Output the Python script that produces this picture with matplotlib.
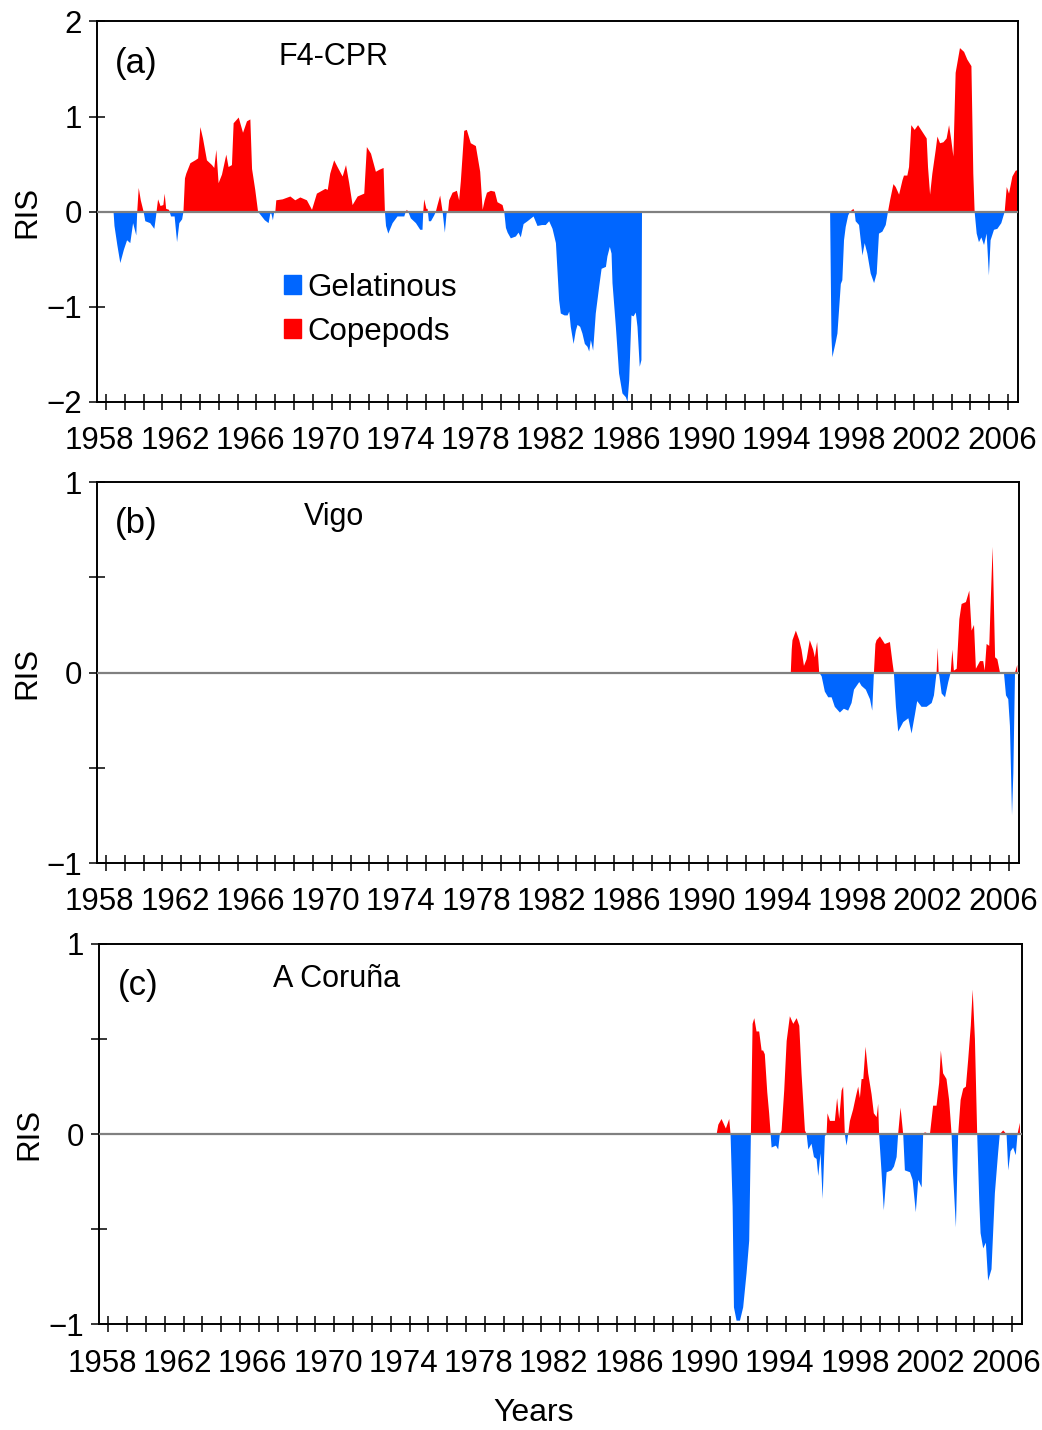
import matplotlib
matplotlib.use("Agg")
import matplotlib.pyplot as plt
from matplotlib.patches import Patch
from matplotlib.ticker import FixedLocator, FuncFormatter
from matplotlib.transforms import ScaledTranslation
import numpy as np

plt.rcParams["font.family"] = ["Liberation Sans", "DejaVu Sans"]

# (a) F4-CPR
a_years = [1958.40, 1958.45, 1958.60, 1958.76, 1958.95, 1959.12, 1959.29, 1959.44, 1959.52, 1959.61,
           1959.66, 1959.74, 1959.85, 1960.00, 1960.09, 1960.35, 1960.57, 1960.66, 1960.70, 1960.77,
           1960.90, 1961.05, 1961.12, 1961.20, 1961.35, 1961.46, 1961.65, 1961.78, 1961.90, 1962.05,
           1962.12, 1962.20, 1962.27, 1962.49, 1962.75, 1962.90, 1963.02, 1963.16, 1963.37, 1963.64,
           1963.76, 1963.87, 1963.99, 1964.17, 1964.40, 1964.52, 1964.70, 1964.79, 1965.06, 1965.29,
           1965.50, 1965.68, 1965.77, 1965.94, 1966.09, 1966.21, 1966.45, 1966.65, 1966.74, 1966.80,
           1966.88, 1966.95, 1967.00, 1967.06, 1967.40, 1967.81, 1968.07, 1968.34, 1968.69, 1968.96,
           1969.22, 1969.67, 1969.80, 1969.93, 1970.14, 1970.32, 1970.59, 1970.77, 1970.94, 1971.12,
           1971.39, 1971.74, 1971.88, 1972.10, 1972.36, 1972.54, 1972.77, 1972.84, 1972.90, 1973.02,
           1973.25, 1973.51, 1973.87, 1973.95, 1974.01, 1974.08, 1974.22, 1974.49, 1974.72, 1974.84,
           1974.88, 1974.93, 1975.05, 1975.11, 1975.18, 1975.29, 1975.46, 1975.55, 1975.64, 1975.78,
           1975.91, 1976.03, 1976.12, 1976.20, 1976.26, 1976.44, 1976.67, 1976.79, 1976.88, 1977.06,
           1977.20, 1977.41, 1977.68, 1977.91, 1978.04, 1978.15, 1978.27, 1978.48, 1978.69, 1978.83,
           1979.10, 1979.19, 1979.28, 1979.37, 1979.54, 1979.81, 1979.95, 1980.07, 1980.22, 1980.43,
           1980.75, 1980.96, 1981.20, 1981.40, 1981.58, 1981.76, 1981.94, 1982.11, 1982.20, 1982.40,
           1982.56, 1982.65, 1982.73, 1982.88, 1983.00, 1983.09, 1983.23, 1983.35, 1983.48, 1983.62,
           1983.71, 1983.80, 1983.92, 1984.06, 1984.24, 1984.37, 1984.60, 1984.68, 1984.81, 1984.90,
           1984.95, 1985.13, 1985.30, 1985.48, 1985.66, 1985.75, 1985.84, 1985.96, 1986.07, 1986.19,
           1986.28, 1986.40, 1986.49, 1986.52,
           1996.53, 1996.60, 1996.65, 1996.83, 1996.92, 1997.10, 1997.18, 1997.27, 1997.36, 1997.49,
           1997.59, 1997.77, 1997.83, 1997.89, 1998.07, 1998.16, 1998.25, 1998.37, 1998.51, 1998.69,
           1998.87, 1999.01, 1999.13, 1999.31, 1999.49, 1999.61, 1999.72, 1999.90, 2000.02, 2000.20,
           2000.38, 2000.46, 2000.64, 2000.73, 2000.85, 2001.03, 2001.21, 2001.44, 2001.67, 2001.74,
           2001.85, 2001.97, 2002.15, 2002.24, 2002.38, 2002.56, 2002.73, 2002.86, 2002.98, 2003.09,
           2003.21, 2003.44, 2003.66, 2003.83, 2004.05, 2004.15, 2004.22, 2004.33, 2004.45, 2004.58,
           2004.72, 2004.86, 2004.98, 2005.07, 2005.25, 2005.43, 2005.64, 2005.82, 2005.93, 2006.05,
           2006.23, 2006.40, 2006.53]
a_ris = [0.0, -0.15, -0.35, -0.54, -0.40, -0.30, -0.33, -0.12, -0.18, -0.25,
         0.0, 0.25, 0.12, 0.0, -0.10, -0.12, -0.18, -0.05, 0.02, 0.13,
         0.06, 0.07, 0.19, 0.03, 0.02, -0.05, -0.05, -0.32, -0.12, -0.08,
         0.0, 0.35, 0.40, 0.51, 0.54, 0.56, 0.89, 0.77, 0.54, 0.49,
         0.46, 0.65, 0.30, 0.39, 0.60, 0.47, 0.49, 0.93, 0.99, 0.83,
         0.95, 0.97, 0.45, 0.23, 0.0, -0.03, -0.09, -0.12, -0.02, -0.02,
         -0.09, 0.0, -0.02, 0.12, 0.13, 0.16, 0.12, 0.15, 0.12, 0.02,
         0.19, 0.24, 0.23, 0.40, 0.54, 0.47, 0.37, 0.49, 0.30, 0.07,
         0.16, 0.19, 0.68, 0.61, 0.42, 0.44, 0.46, 0.0, -0.15, -0.23,
         -0.12, -0.05, -0.05, 0.0, 0.02, 0.0, -0.07, -0.12, -0.19, -0.19,
         0.0, 0.13, 0.03, 0.03, -0.10, -0.10, -0.04, 0.0, 0.07, 0.17,
         0.0, -0.22, -0.02, 0.0, 0.12, 0.20, 0.22, 0.12, 0.32, 0.85,
         0.86, 0.72, 0.69, 0.42, 0.02, 0.12, 0.20, 0.22, 0.21, 0.10,
         0.07, 0.0, -0.17, -0.22, -0.28, -0.26, -0.22, -0.27, -0.13, -0.10,
         -0.05, -0.15, -0.14, -0.14, -0.10, -0.18, -0.33, -0.93, -1.07, -1.09,
         -1.09, -1.05, -1.21, -1.39, -1.25, -1.19, -1.21, -1.28, -1.39, -1.42,
         -1.47, -1.35, -1.46, -1.07, -0.79, -0.60, -0.58, -0.47, -0.37, -0.44,
         -0.75, -1.21, -1.70, -1.91, -1.95, -2.00, -1.77, -1.09, -1.10, -1.06,
         -1.21, -1.63, -1.56, 0.0,
         0.0, -1.30, -1.53, -1.37, -1.28, -0.76, -0.72, -0.30, -0.16, -0.04,
         0.0, 0.03, 0.0, -0.10, -0.14, -0.30, -0.46, -0.33, -0.44, -0.65,
         -0.75, -0.65, -0.23, -0.21, -0.14, 0.0, 0.12, 0.29, 0.26, 0.18,
         0.33, 0.38, 0.38, 0.47, 0.91, 0.86, 0.91, 0.84, 0.77, 0.47,
         0.18, 0.40, 0.65, 0.79, 0.72, 0.73, 0.77, 0.91, 0.75, 0.58,
         1.46, 1.72, 1.68, 1.60, 1.53, 0.40, 0.0, -0.23, -0.32, -0.27,
         -0.35, -0.23, -0.67, -0.30, -0.19, -0.18, -0.12, 0.0, 0.26, 0.19,
         0.37, 0.43, 0.44]

# (b) Vigo
b_years = [1994.40, 1994.45, 1994.49, 1994.67, 1994.85, 1994.97, 1995.10, 1995.24, 1995.41, 1995.59,
           1995.68, 1995.80, 1995.91, 1996.04, 1996.21, 1996.39, 1996.57, 1996.74, 1997.01, 1997.22,
           1997.45, 1997.63, 1997.76, 1998.04, 1998.16, 1998.39, 1998.61, 1998.73, 1998.82, 1998.90,
           1998.96, 1999.14, 1999.40, 1999.67, 1999.81, 1999.88, 1999.99, 2000.11, 2000.38, 2000.65,
           2000.82, 2001.00, 2001.12, 2001.35, 2001.62, 2001.89, 2002.01, 2002.15, 2002.21, 2002.26,
           2002.30, 2002.42, 2002.60, 2002.77, 2002.90, 2002.99, 2003.07, 2003.22, 2003.36, 2003.48,
           2003.71, 2003.89, 2004.01, 2004.14, 2004.24, 2004.46, 2004.63, 2004.71, 2004.81, 2004.95,
           2005.02, 2005.13, 2005.26, 2005.38, 2005.52, 2005.73, 2005.84, 2005.96, 2006.05, 2006.16,
           2006.23, 2006.32, 2006.44]
b_ris = [0.0, 0.12, 0.17, 0.22, 0.17, 0.12, 0.035, 0.07, 0.17, 0.12,
         0.08, 0.16, 0.0, -0.02, -0.10, -0.13, -0.13, -0.18, -0.21, -0.19,
         -0.20, -0.16, -0.09, -0.05, -0.07, -0.09, -0.14, -0.20, 0.0, 0.15,
         0.17, 0.19, 0.15, 0.16, 0.05, 0.0, -0.18, -0.31, -0.26, -0.24,
         -0.32, -0.22, -0.15, -0.18, -0.18, -0.16, -0.12, 0.0, 0.13, 0.0,
         -0.02, -0.11, -0.13, -0.05, 0.0, 0.12, 0.01, 0.02, 0.28, 0.36,
         0.37, 0.43, 0.22, 0.25, 0.02, 0.06, 0.06, 0.01, 0.15, 0.14,
         0.35, 0.66, 0.08, 0.07, 0.0, 0.0, -0.12, -0.14, -0.28, -0.75,
         -0.53, 0.0, 0.04]

# (c) A Coruña
c_years = [1990.31, 1990.40, 1990.57, 1990.80, 1990.98, 1991.05, 1991.16, 1991.23, 1991.37, 1991.55,
           1991.72, 1991.90, 1992.04, 1992.13, 1992.22, 1992.31, 1992.43, 1992.57, 1992.70, 1992.78,
           1992.87, 1993.00, 1993.10, 1993.18, 1993.23, 1993.46, 1993.58, 1993.67, 1993.76, 1993.90,
           1994.03, 1994.20, 1994.38, 1994.56, 1994.70, 1994.82, 1995.00, 1995.09, 1995.18, 1995.35,
           1995.48, 1995.62, 1995.71, 1995.83, 1995.94, 1996.06, 1996.15, 1996.20, 1996.33, 1996.59,
           1996.71, 1996.82, 1996.95, 1997.03, 1997.12, 1997.21, 1997.30, 1997.39, 1997.56, 1997.71,
           1997.83, 1997.92, 1998.01, 1998.10, 1998.22, 1998.36, 1998.54, 1998.66, 1998.81, 1998.89,
           1998.94, 1999.07, 1999.19, 1999.34, 1999.60, 1999.73, 1999.87, 1999.95, 2000.08, 2000.22,
           2000.31, 2000.58, 2000.72, 2000.89, 2001.02, 2001.20, 2001.28, 2001.37, 2001.64, 2001.81,
           2001.99, 2002.13, 2002.22, 2002.34, 2002.52, 2002.66, 2002.79, 2002.87, 2003.02, 2003.14,
           2003.27, 2003.41, 2003.55, 2003.67, 2003.81, 2003.91, 2004.03, 2004.15, 2004.26, 2004.33,
           2004.47, 2004.61, 2004.73, 2004.91, 2005.09, 2005.26, 2005.35, 2005.53, 2005.71, 2005.80,
           2005.92, 2006.06, 2006.20, 2006.29, 2006.42]
c_ris = [0.0, 0.05, 0.08, 0.03, 0.08, 0.0, -0.38, -0.91, -0.98, -0.98,
         -0.91, -0.73, -0.56, 0.0, 0.58, 0.61, 0.54, 0.54, 0.44, 0.44,
         0.42, 0.22, 0.11, 0.0, -0.07, -0.06, -0.08, 0.0, 0.02, 0.23,
         0.49, 0.62, 0.58, 0.61, 0.57, 0.32, 0.02, 0.0, -0.08, -0.05,
         -0.12, -0.13, -0.22, -0.10, -0.34, -0.01, 0.0, 0.11, 0.07, 0.07,
         0.19, 0.08, 0.23, 0.25, 0.0, -0.06, 0.0, 0.07, 0.13, 0.20,
         0.25, 0.19, 0.29, 0.29, 0.46, 0.32, 0.21, 0.11, 0.09, 0.16,
         0.0, -0.20, -0.40, -0.20, -0.19, -0.17, -0.12, 0.0, 0.14, 0.0,
         -0.19, -0.20, -0.24, -0.41, -0.24, -0.28, 0.0, 0.01, 0.0, 0.15,
         0.15, 0.27, 0.44, 0.32, 0.29, 0.18, 0.0, -0.21, -0.49, 0.0,
         0.18, 0.24, 0.25, 0.39, 0.57, 0.76, 0.50, 0.0, -0.35, -0.52,
         -0.60, -0.57, -0.77, -0.71, -0.31, -0.10, 0.0, 0.02, 0.0, -0.19,
         -0.09, -0.07, -0.11, 0.0, 0.06]

panels = [
    ("(a)", "F4-CPR", a_years, a_ris, (-2, 2), [-2, -1, 0, 1, 2], []),
    ("(b)", "Vigo", b_years, b_ris, (-1, 1), [-1, 0, 1], [-0.5, 0.5]),
    ("(c)", "A Coruña", c_years, c_ris, (-1, 1), [-1, 0, 1], [-0.5, 0.5]),
]
# axes boxes in figure fractions (left, bottom, width, height)
boxes = [
    [0.0931, 0.7189, 0.8839, 0.2661],
    [0.0931, 0.3965, 0.8848, 0.2664],
    [0.0953, 0.0738, 0.8855, 0.2661],
]

BLUE = "#0066ff"
RED = "#ff0000"
FS = 22.5

fig = plt.figure(figsize=(10.42, 14.30), dpi=100)
shift = ScaledTranslation(-4.5 / 72, 0, fig.dpi_scale_trans)

for (tag, name, yrs, ris, ylim, yt, ymt), box in zip(panels, boxes):
    ax = fig.add_axes(box)
    x = np.array(yrs)
    y = np.array(ris)
    ax.fill_between(x, 0, y, where=y >= 0, interpolate=True, color=RED, lw=0)
    ax.fill_between(x, 0, y, where=y <= 0, interpolate=True, color=BLUE, lw=0)
    ax.axhline(0, color="#808080", lw=1.6, zorder=3)

    ax.set_xlim(1957.52, 2006.53)
    ax.set_ylim(*ylim)
    ax.xaxis.set_major_locator(FixedLocator(np.arange(1958, 2007)))
    ax.xaxis.set_major_formatter(FuncFormatter(
        lambda v, p: str(int(round(v))) if int(round(v)) % 4 == 2 else ""))
    ax.set_yticks(yt)
    ax.set_yticks(ymt, minor=True)
    ax.yaxis.set_major_formatter(FuncFormatter(lambda v, p: f"{v:g}".replace("-", "\u2212")))
    ax.tick_params(axis="x", direction="inout", length=11, width=1.1, pad=12, labelsize=FS)
    ax.tick_params(axis="y", which="both", direction="inout", length=11.5, width=1.1, pad=5, labelsize=FS)
    for lab in ax.get_xticklabels():
        lab.set_transform(lab.get_transform() + shift)
    for s in ax.spines.values():
        s.set_linewidth(1.4)
    ax.set_ylabel("RIS", fontsize=FS, labelpad=3)

    ax.text(0.042, 0.89, tag, transform=ax.transAxes, fontsize=25, ha="center", va="center")
    ax.text(0.257, 0.907, name, transform=ax.transAxes, fontsize=FS - 0.5, ha="center", va="center")

    if tag == "(a)":
        handles = [Patch(color=BLUE), Patch(color=RED)]
        ax.legend(handles, ["Gelatinous", "Copepods"], loc="upper left",
                  bbox_to_anchor=(0.203, 0.34), frameon=False, fontsize=FS,
                  handlelength=0.55, handleheight=0.55, handletextpad=0.2,
                  labelspacing=0.45, borderpad=0, borderaxespad=0)

fig.text(0.512, 0.012, "Years", fontsize=23, ha="center", va="center")

fig.savefig("out.png", dpi=100)
